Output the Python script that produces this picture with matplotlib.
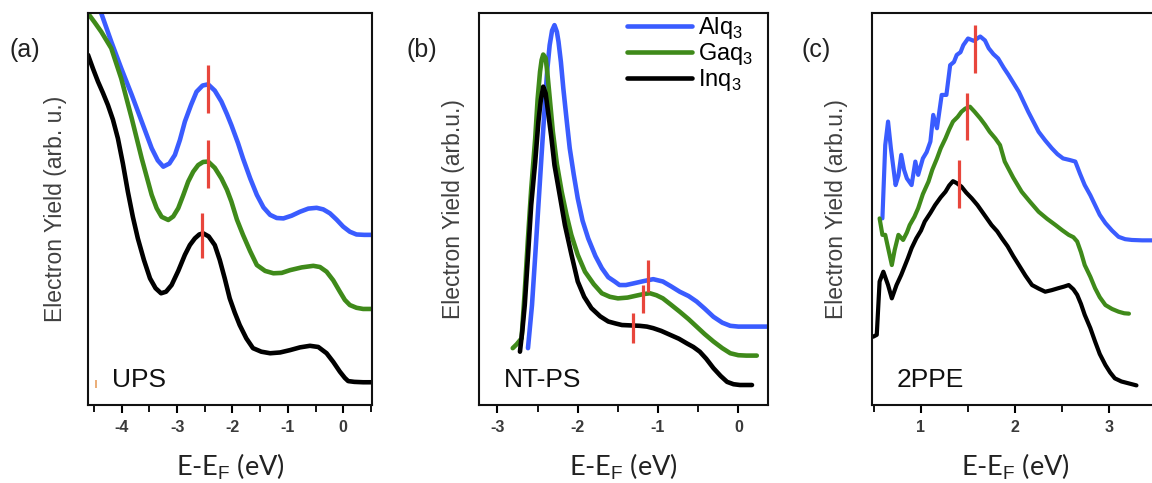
import matplotlib
matplotlib.use("Agg")
import matplotlib.pyplot as plt
from matplotlib.ticker import MultipleLocator

plt.rcParams['font.family'] = ['Liberation Sans', 'DejaVu Sans']
plt.rcParams['mathtext.fontset'] = 'custom'
plt.rcParams['mathtext.rm'] = 'Liberation Sans'
plt.rcParams['axes.unicode_minus'] = False

BLUE = '#3a5cff'
GREEN = '#3f8a1a'
BLACK = '#000000'
RED = '#e8463c'

# ---- (a) UPS ----
upsAlqX = [-4.37, -4.19, -4.01, -3.82, -3.64, -3.46, -3.35, -3.25, -3.14, -3.04, -2.95, -2.86, -2.75, -2.65,
           -2.54, -2.44, -2.32, -2.20, -2.10, -2.02, -1.90, -1.81, -1.68, -1.56, -1.44, -1.32, -1.20, -1.08,
           -0.93, -0.78, -0.63, -0.48, -0.36, -0.24, -0.12, 0.00, 0.12, 0.24, 0.38, 0.54]
upsAlqY = [99.9, 92.7, 85.9, 79.1, 72.3, 65.5, 62.4, 60.8, 61.6, 63.8, 67.6, 72.3, 76.5, 79.9,
           81.5, 81.8, 80.2, 77.4, 74.2, 71.4, 66.8, 62.9, 57.8, 53.6, 50.4, 48.5, 47.7, 47.6,
           48.3, 49.3, 50.1, 50.3, 49.9, 48.9, 47.3, 45.5, 44.2, 43.5, 43.4, 43.4]

upsGaqX = [-4.61, -4.49, -4.37, -4.19, -4.01, -3.82, -3.64, -3.46, -3.37, -3.28, -3.16, -3.07, -2.98, -2.89,
           -2.80, -2.71, -2.62, -2.53, -2.44, -2.32, -2.20, -2.10, -2.02, -1.92, -1.81, -1.68, -1.56, -1.41,
           -1.26, -1.11, -0.96, -0.75, -0.54, -0.42, -0.30, -0.18, -0.06, 0.03, 0.12, 0.24, 0.36, 0.54]
upsGaqY = [99.9, 97.6, 95.2, 91.0, 83.3, 73.1, 62.9, 53.6, 50.2, 48.0, 47.2, 48.1, 50.2, 53.5,
           57.0, 59.5, 61.2, 62.0, 62.1, 60.5, 57.8, 54.9, 51.9, 47.3, 43.4, 39.2, 35.7, 34.2,
           33.6, 33.7, 34.4, 35.1, 35.5, 35.2, 34.0, 31.8, 28.9, 26.8, 25.5, 24.8, 24.5, 24.5]

upsInqX = [-4.61, -4.52, -4.43, -4.34, -4.25, -4.16, -4.07, -3.98, -3.89, -3.80, -3.71, -3.60, -3.49, -3.39,
           -3.29, -3.20, -3.10, -2.98, -2.86, -2.77, -2.68, -2.60, -2.53, -2.43, -2.32, -2.23, -2.14, -2.05,
           -1.96, -1.87, -1.75, -1.63, -1.48, -1.32, -1.14, -0.96, -0.78, -0.60, -0.45, -0.30, -0.18, -0.06,
           0.03, 0.09, 0.20, 0.36, 0.54]
upsInqY = [89.3, 85.8, 82.5, 79.6, 76.5, 72.8, 68.0, 61.6, 54.4, 48.0, 42.5, 37.0, 32.3, 29.8,
           28.5, 28.9, 30.6, 34.2, 38.3, 40.8, 42.5, 43.5, 43.8, 43.0, 40.8, 37.0, 32.3, 27.2,
           23.6, 20.4, 17.0, 14.5, 13.6, 13.2, 13.4, 14.0, 14.7, 15.1, 14.8, 13.2, 11.0, 8.5,
           6.9, 6.1, 5.9, 5.8, 5.8]

upsMarkX = [-2.44, -2.44, -2.55]
upsMarkLow = [74.4, 55.3, 37.5]
upsMarkHigh = [86.7, 67.6, 49.0]

# ---- (b) NT-PS ----
ntAlqX = [-2.62, -2.57, -2.53, -2.49, -2.45, -2.41, -2.38, -2.35, -2.32, -2.29, -2.26, -2.24, -2.21, -2.18,
          -2.14, -2.10, -2.05, -2.00, -1.94, -1.87, -1.78, -1.70, -1.62, -1.54, -1.48, -1.40, -1.31, -1.18,
          -1.06, -0.94, -0.84, -0.73, -0.62, -0.52, -0.42, -0.31, -0.20, -0.10, 0.00, 0.10, 0.22, 0.37]
ntAlqY = [14.5, 25.5, 38.0, 51.0, 64.0, 76.5, 85.5, 91.8, 95.5, 96.9, 95.2, 92.7, 87.5, 80.8,
          73.0, 65.5, 58.8, 52.7, 47.0, 42.5, 38.0, 34.9, 32.6, 31.5, 30.6, 30.6, 31.0, 31.6,
          32.1, 31.5, 30.3, 28.9, 27.8, 26.4, 24.6, 22.5, 21.0, 20.2, 20.0, 20.0, 20.0, 20.0]

ntGaqX = [-2.81, -2.76, -2.70, -2.66, -2.62, -2.58, -2.53, -2.50, -2.47, -2.45, -2.43, -2.40, -2.38, -2.35,
          -2.31, -2.26, -2.20, -2.14, -2.08, -2.00, -1.91, -1.80, -1.70, -1.60, -1.50, -1.38, -1.27, -1.18,
          -1.10, -1.02, -0.94, -0.84, -0.73, -0.62, -0.52, -0.42, -0.31, -0.20, -0.10, 0.00, 0.10, 0.23]
ntGaqY = [14.5, 15.5, 17.0, 29.0, 42.5, 55.0, 68.0, 78.0, 85.0, 88.0, 89.4, 88.5, 85.0, 78.5,
          69.7, 61.5, 54.4, 48.5, 43.4, 38.3, 34.0, 30.8, 28.5, 27.6, 27.2, 27.4, 27.9, 28.3,
          28.5, 28.0, 27.2, 25.6, 23.8, 21.9, 20.0, 18.1, 16.2, 14.5, 13.2, 12.7, 12.6, 12.6]

ntInqX = [-2.72, -2.69, -2.66, -2.62, -2.58, -2.53, -2.49, -2.46, -2.43, -2.40, -2.37, -2.33, -2.29, -2.22,
          -2.16, -2.08, -2.00, -1.92, -1.83, -1.72, -1.62, -1.53, -1.45, -1.34, -1.23, -1.14, -1.06, -0.96,
          -0.85, -0.74, -0.64, -0.56, -0.48, -0.40, -0.31, -0.22, -0.14, -0.06, 0.02, 0.10, 0.17]
ntInqY = [13.6, 19.0, 25.5, 38.0, 51.0, 62.0, 72.3, 77.8, 81.2, 79.5, 74.8, 68.5, 61.2, 53.0,
          45.9, 38.5, 31.5, 27.6, 24.7, 22.6, 21.3, 20.8, 20.4, 20.3, 20.2, 20.0, 19.6, 18.9,
          17.9, 16.9, 15.7, 14.8, 13.6, 11.8, 9.4, 7.4, 5.9, 5.3, 5.1, 5.1, 5.1]

ntMarkX = [-1.12, -1.19, -1.31]
ntMarkLow = [28.8, 23.5, 15.8]
ntMarkHigh = [37.0, 30.6, 23.5]

# ---- (c) 2PPE ----
ppeAlqX = [0.59, 0.62, 0.65, 0.68, 0.73, 0.76, 0.79, 0.82, 0.85, 0.90, 0.94, 0.97, 1.02, 1.06,
           1.10, 1.13, 1.17, 1.22, 1.27, 1.31, 1.35, 1.38, 1.42, 1.45, 1.50, 1.56, 1.63, 1.68,
           1.72, 1.77, 1.82, 1.88, 1.93, 2.04, 2.14, 2.25, 2.32, 2.39, 2.45, 2.51, 2.58, 2.64,
           2.69, 2.74, 2.80, 2.85, 2.90, 2.96, 3.03, 3.10, 3.17, 3.24, 3.35, 3.46]
ppeAlqY = [47.6, 66.3, 72.3, 65.5, 56.1, 58.5, 63.8, 60.0, 57.8, 56.1, 62.1, 58.7, 62.9, 64.5,
           67.2, 74.0, 70.6, 79.1, 79.1, 86.7, 87.5, 89.3, 90.0, 91.8, 93.5, 92.9, 94.0, 93.0,
           91.0, 89.5, 88.4, 86.0, 84.2, 79.9, 74.8, 69.7, 67.5, 65.5, 64.0, 62.9, 62.5, 62.1,
           59.0, 56.1, 53.5, 51.0, 48.5, 46.4, 44.5, 42.9, 42.3, 42.1, 42.0, 42.0]

ppeGaqX = [0.56, 0.59, 0.62, 0.66, 0.69, 0.72, 0.76, 0.81, 0.85, 0.88, 0.93, 0.97, 1.02, 1.08,
           1.12, 1.17, 1.21, 1.26, 1.30, 1.34, 1.39, 1.43, 1.47, 1.52, 1.57, 1.63, 1.68, 1.73,
           1.79, 1.84, 1.89, 1.98, 2.07, 2.16, 2.25, 2.34, 2.43, 2.50, 2.57, 2.62, 2.66, 2.70,
           2.74, 2.80, 2.85, 2.90, 2.96, 3.03, 3.10, 3.16, 3.21]
ppeGaqY = [47.6, 43.4, 43.4, 39.0, 35.7, 39.5, 43.4, 42.1, 44.0, 45.9, 48.0, 50.2, 53.8, 57.0,
           60.0, 62.9, 65.5, 68.0, 70.3, 72.3, 73.5, 74.8, 75.6, 76.1, 74.8, 73.1, 71.5, 69.7,
           68.0, 66.3, 62.1, 58.0, 54.4, 51.8, 49.3, 47.5, 45.9, 44.6, 43.4, 42.8, 41.7, 39.0,
           35.7, 32.7, 29.8, 27.5, 25.5, 24.5, 23.8, 23.4, 23.3]

ppeInqX = [0.49, 0.53, 0.56, 0.60, 0.65, 0.69, 0.74, 0.79, 0.86, 0.90, 0.95, 1.00, 1.04, 1.10,
           1.15, 1.21, 1.26, 1.30, 1.34, 1.38, 1.43, 1.48, 1.54, 1.60, 1.65, 1.70, 1.75, 1.81,
           1.86, 1.92, 1.98, 2.04, 2.11, 2.18, 2.25, 2.32, 2.39, 2.46, 2.52, 2.57, 2.62, 2.66,
           2.70, 2.74, 2.80, 2.85, 2.90, 2.96, 3.01, 3.06, 3.13, 3.21, 3.29]
ppeInqY = [17.4, 17.9, 31.5, 34.0, 30.6, 27.2, 30.6, 33.2, 37.4, 40.0, 42.5, 44.5, 46.8, 49.0,
           51.0, 53.0, 54.4, 56.0, 57.1, 56.6, 55.7, 54.2, 52.7, 51.0, 49.3, 47.6, 45.9, 44.3,
           42.5, 40.5, 38.0, 35.7, 33.0, 30.6, 29.7, 28.9, 29.3, 29.8, 30.2, 30.6, 29.5, 28.1,
           25.8, 23.0, 19.6, 16.2, 13.0, 10.2, 8.3, 6.8, 6.0, 5.5, 5.0]

ppeMarkX = [1.57, 1.49, 1.40]
ppeMarkLow = [84.6, 67.6, 50.2]
ppeMarkHigh = [96.9, 79.5, 62.5]

seriesNames = ['Alq$_3$', 'Gaq$_3$', 'Inq$_3$']
seriesColors = [BLUE, GREEN, BLACK]


def SetupAxes(ax, xlim, ylabelText, ypad, panelText, tag):
    ax.set_xlim(*xlim)
    ax.set_ylim(0, 100)
    ax.set_yticks([])
    ax.xaxis.set_major_locator(MultipleLocator(1))
    ax.xaxis.set_minor_locator(MultipleLocator(0.5))
    ax.tick_params(axis='x', which='major', direction='out', length=6, width=1.5,
                   labelsize=11.5, pad=5, labelcolor='#3a3a3a')
    ax.tick_params(axis='x', which='minor', direction='out', length=5, width=1.3)
    for lab in ax.get_xticklabels():
        lab.set_fontweight('bold')
    for sp in ax.spines.values():
        sp.set_linewidth(1.5)
        sp.set_color('#111111')
    ax.set_xlabel('E-E$_\\mathrm{F}$ (eV)', family=['Lato', 'DejaVu Sans'],
                  fontsize=19.5, labelpad=12, color='#222222')
    ax.set_ylabel(ylabelText, fontsize=16.5, color='#404040', labelpad=ypad)
    ax.text(0.085, 0.046, panelText, transform=ax.transAxes, fontsize=19,
            va='baseline', ha='left', color='#111111')
    ax.text(tag[0], tag[1], tag[2], transform=ax.figure.transFigure, fontsize=18,
            va='center', ha='left', color='#222222')


def DrawCurves(ax, xs, ys, width):
    lines = []
    for x, y, name, col in zip(xs, ys, seriesNames, seriesColors):
        ln, = ax.plot(x, y, color=col, lw=width, label=name, solid_capstyle='round')
        lines.append(ln)
    return lines


def DrawMarks(ax, mx, lo, hi):
    ax.vlines(mx, lo, hi, colors=RED, lw=2.3, zorder=5)


fig = plt.figure(figsize=(11.52, 4.83), dpi=100)
axA = fig.add_axes([0.0764, 0.1615, 0.2465, 0.8116])
axB = fig.add_axes([0.4158, 0.1615, 0.2509, 0.8116])
axC = fig.add_axes([0.7570, 0.1615, 0.2483, 0.8116])

DrawCurves(axA, [upsAlqX, upsGaqX, upsInqX], [upsAlqY, upsGaqY, upsInqY], 3.3)
DrawMarks(axA, upsMarkX, upsMarkLow, upsMarkHigh)
axA.vlines([-4.46], [4.3], [6.4], colors='#e8a060', lw=1.2)
SetupAxes(axA, (-4.61, 0.52), 'Electron Yield (arb. u.)', 15, 'UPS', (0.008, 0.896, '(a)'))

lines = DrawCurves(axB, [ntAlqX, ntGaqX, ntInqX], [ntAlqY, ntGaqY, ntInqY], 3.3)
DrawMarks(axB, ntMarkX, ntMarkLow, ntMarkHigh)
SetupAxes(axB, (-3.23, 0.37), 'Electron Yield (arb.u.)', 10, 'NT-PS', (0.353, 0.896, '(b)'))
axB.legend(handles=lines, loc='upper left', bbox_to_anchor=(0.495, 1.006), frameon=False,
           fontsize=17, handlelength=2.75, handletextpad=0.25, labelspacing=0.0,
           borderpad=0.2, borderaxespad=0)

DrawCurves(axC, [ppeAlqX, ppeGaqX, ppeInqX], [ppeAlqY, ppeGaqY, ppeInqY], 3.0)
DrawMarks(axC, ppeMarkX, ppeMarkLow, ppeMarkHigh)
SetupAxes(axC, (0.48, 3.52), 'Electron Yield (arb.u.)', 17, '2PPE', (0.696, 0.896, '(c)'))

fig.savefig('out.png', dpi=100)
